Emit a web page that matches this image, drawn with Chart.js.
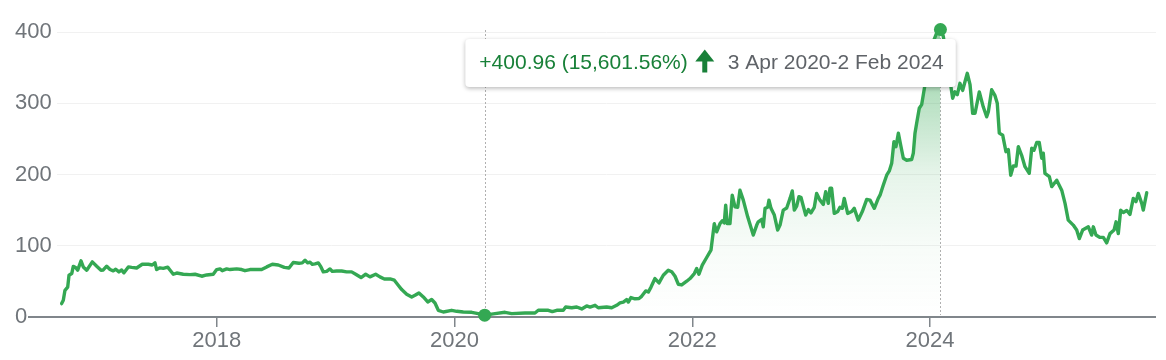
<!DOCTYPE html>
<html><head><meta charset="utf-8">
<script src="https://cdn.jsdelivr.net/npm/chart.js@4"></script>
<style>html,body{margin:0;padding:0;background:#fff}#wrap{width:1166px;height:360px;position:relative}canvas{display:block}</style>
</head><body><div id="wrap"><canvas id="c" width="1166" height="360"></canvas></div>
<script>
// decimal-year dates and prices
const dates = [
2016.696,2016.710,2016.724,2016.747,2016.758,2016.781,2016.794,2016.814,2016.831,2016.859,2016.878,2016.907,2016.954,2016.991,
2017.027,2017.046,2017.075,2017.103,2017.130,2017.151,2017.178,2017.201,2017.220,2017.257,2017.285,2017.327,2017.374,2017.425,
2017.458,2017.481,2017.495,2017.523,2017.551,2017.588,2017.607,2017.635,2017.664,2017.719,2017.775,2017.818,2017.874,2017.916,2017.971,
2018.000,2018.028,2018.047,2018.084,2018.112,2018.168,2018.210,2018.238,2018.280,2018.336,2018.378,2018.421,2018.468,2018.518,
2018.569,2018.608,2018.644,2018.692,2018.720,2018.743,2018.765,2018.785,2018.804,2018.827,2018.855,2018.877,2018.897,2018.925,
2018.953,2018.972,2019.009,2019.051,2019.093,2019.135,2019.169,2019.214,2019.253,2019.289,2019.337,2019.373,2019.410,2019.458,
2019.494,2019.527,2019.556,2019.598,2019.640,2019.668,2019.701,2019.738,2019.775,2019.808,2019.836,2019.864,2019.906,2019.976,
2020.019,2020.074,2020.145,2020.200,2020.254,2020.341,2020.425,2020.481,2020.593,2020.677,2020.705,2020.789,2020.823,2020.860,
2020.915,2020.935,2020.986,2021.028,2021.070,2021.112,2021.140,2021.182,2021.209,2021.280,2021.322,2021.364,2021.392,2021.420,
2021.448,2021.462,2021.484,2021.518,2021.552,2021.574,2021.608,2021.630,2021.653,2021.686,2021.720,2021.756,2021.798,2021.827,
2021.855,2021.882,2021.911,2021.953,2021.981,2022.017,2022.037,2022.056,2022.084,2022.121,2022.157,2022.185,2022.205,2022.233,
2022.252,2022.269,2022.281,2022.294,2022.317,2022.336,2022.359,2022.382,2022.401,2022.429,2022.466,2022.513,2022.542,2022.555,
2022.584,2022.597,2022.612,2022.634,2022.645,2022.662,2022.690,2022.718,2022.738,2022.765,2022.794,2022.822,2022.841,2022.858,
2022.878,2022.897,2022.914,2022.934,2022.954,2022.976,2022.998,2023.026,2023.046,2023.074,2023.102,2023.122,2023.144,2023.158,
2023.172,2023.194,2023.223,2023.242,2023.262,2023.278,2023.307,2023.341,2023.362,2023.396,2023.430,2023.467,2023.495,2023.531,
2023.564,2023.579,2023.606,2023.635,2023.657,2023.677,2023.696,2023.713,2023.733,2023.753,2023.775,2023.803,2023.845,2023.859,
2023.873,2023.887,2023.909,2023.929,2023.943,2023.957,2023.971,2023.993,2024.013,2024.033,2024.055,2024.087,2024.111,2024.151,
2024.190,2024.209,2024.229,2024.251,2024.274,2024.294,2024.313,2024.336,2024.358,2024.378,2024.414,2024.447,2024.476,2024.490,
2024.518,2024.546,2024.565,2024.582,2024.611,2024.638,2024.658,2024.678,2024.700,2024.723,2024.742,2024.770,2024.798,2024.834,
2024.855,2024.874,2024.897,2024.918,2024.939,2024.952,2024.966,2025.003,2025.023,2025.065,2025.107,2025.135,2025.162,2025.204,
2025.233,2025.255,2025.283,2025.331,2025.359,2025.373,2025.395,2025.429,2025.457,2025.485,2025.513,2025.547,2025.564,2025.583,
2025.603,2025.625,2025.654,2025.681,2025.709,2025.732,2025.751,2025.780,2025.793,2025.822
];
const prices = [
18.8,23.5,37.5,42,58.6,61,71,69.5,65.7,78.8,70.3,65.7,77.4,71.3,
65.7,66,71.3,66.6,64.7,67,63.3,66,62,70.3,69.6,68.8,74,74,
73,76,66.6,69,68.3,70,66,60,61.7,60,59.5,60,57.2,59,60,
66.6,67.5,65,67.5,66.6,67.5,66.6,65,66.6,66.6,66.6,70.3,74,73,
69.6,68.8,76.5,75.5,76,79.7,76,77,73.8,74.5,76,70.3,63.3,64,
67.5,64,64.5,64.5,63.3,63.3,60,55.4,60,56.3,60,56.3,53.4,53.4,
51.6,44.6,38.5,32,28.1,30.5,33.8,28.1,21.1,24.5,19.7,9.4,7,9.4,
8,7,6.6,4.7,2.57,4.7,6.6,4.7,5.6,5.6,9.4,9.4,7.5,9.4,
9.4,14,13,14,11.3,15.5,14,16.4,13,14,13,16.4,19.7,21,
24.5,21,27.3,25.6,26,29,36.6,35,42,54,47.8,58.6,65.7,63.5,
57.2,46,45,50.2,54,61,68,60,72.7,83.5,93.8,131,119.5,131,
135,132,157,131,131,171,154.7,154,178,164,140.6,115,129,133.6,
137,126.6,152.5,154,164,152.5,143,122,129,150,153,166.5,177,150,
155.5,168.8,168,155.5,143,150.7,146,154,173.5,164,158,175.8,159.6,180.6,
180.6,145.4,148,154,152.5,166.5,145.4,148,152.5,136,148,165,164,152.5,
166.5,171,185,199,205,215.7,246,239,258,241,222.8,220,221,230,
258,272,293,298,312,326,342,361,377.5,389,398.6,403.53,394,350,
307,316,312,328,318,330.5,342,326,286,286,316,295,281,288,
319,310.6,300,258,255,232,235,199,212,212,239,227,211,201.7,
237,234,245,245,222.8,230,201.7,197,183,192,178,159.5,136,129,
122,110,122,126.6,115,126.6,115,111.7,111.7,104,117,122,133.6,117,
150,146.6,149.5,144,166.5,162,173.5,159.5,150,174.4
];
const xTickYears = [2018, 2020, 2022, 2024];
const yTickValues = [0, 100, 200, 300, 400];
const rangeStartDate = 2020.254;   // 3 Apr 2020
const rangeEndDate = 2024.087;     // 2 Feb 2024
const rangeStartLabel = '3 Apr 2020';
const rangeEndLabel = '2 Feb 2024';

const GREEN = '#34a853';
const FONT = 'Arial, "Liberation Sans", sans-serif';

const points = dates.map((d, i) => ({x: d, y: prices[i]}));
const iStart = dates.indexOf(rangeStartDate);
const iEnd = dates.indexOf(rangeEndDate);
const rangePoints = points.filter(p => p.x >= rangeStartDate && p.x <= rangeEndDate);

const rangeLines = {
  id: 'rangeLines',
  beforeDatasetsDraw(chart) {
    const {ctx, chartArea} = chart, xs = chart.scales.x;
    ctx.save();
    ctx.strokeStyle = '#b0b0b0';
    ctx.lineWidth = 1;
    ctx.setLineDash([2, 2]);
    [rangeStartDate, rangeEndDate].forEach(d => {
      const x = Math.round(xs.getPixelForValue(d)) + 0.5;
      ctx.beginPath();
      ctx.moveTo(x, chartArea.top - 2);
      ctx.lineTo(x, chartArea.bottom - 2);
      ctx.stroke();
    });
    ctx.restore();
  }
};

const rangeBox = {
  id: 'rangeBox',
  afterDatasetsDraw(chart) {
    const {ctx, chartArea} = chart, xs = chart.scales.x;
    const x0 = xs.getPixelForValue(rangeStartDate), x1 = xs.getPixelForValue(rangeEndDate);
    const v0 = prices[iStart], v1 = prices[iEnd];
    const diff = v1 - v0, pct = diff / v0 * 100;
    const fmt = n => n.toLocaleString('en-US', {minimumFractionDigits: 2, maximumFractionDigits: 2});
    const t1 = (diff >= 0 ? '+' : '') + fmt(diff) + ' (' + fmt(pct) + '%)';
    const t2 = rangeStartLabel + '-' + rangeEndLabel;
    ctx.save();
    ctx.font = '21px ' + FONT;
    const w1 = ctx.measureText(t1).width, w2 = ctx.measureText(t2).width;
    const padL = 14, gap1 = 7, aw = 20, gap2 = 13, padR = 12, H = 48;
    const W = padL + w1 + gap1 + aw + gap2 + w2 + padR;
    const left = (x0 + x1) / 2 - 2 - W / 2;
    const top = chartArea.top + 7;
    ctx.shadowColor = 'rgba(0,0,0,0.28)';
    ctx.shadowBlur = 4;
    ctx.shadowOffsetY = 1.5;
    ctx.fillStyle = '#fff';
    ctx.beginPath();
    ctx.roundRect(left, top, W, H, 4);
    ctx.fill();
    ctx.shadowColor = 'transparent';
    const cy = top + H / 2 + 0.5;
    ctx.textBaseline = 'middle';
    ctx.textAlign = 'left';
    ctx.fillStyle = '#188038';
    ctx.fillText(t1, left + padL, cy);
    // up arrow icon
    const ax = left + padL + w1 + gap1, acx = ax + aw / 2;
    ctx.beginPath();
    ctx.moveTo(acx, cy - 14);
    ctx.lineTo(ax + aw - 0.5, cy - 2);
    ctx.lineTo(ax + 0.5, cy - 2);
    ctx.closePath();
    ctx.fill();
    ctx.fillRect(acx - 2.5, cy - 3, 5, 12);
    ctx.fillStyle = '#5f6368';
    ctx.fillText(t2, ax + aw + gap2, cy);
    ctx.restore();
  }
};

const isZero = c => c.tick && c.tick.value === 0;

new Chart(document.getElementById('c'), {
  type: 'line',
  data: {
    datasets: [
      {
        data: points,
        borderColor: GREEN,
        borderWidth: 3.4,
        borderJoinStyle: 'round',
        borderCapStyle: 'round',
        tension: 0,
        fill: false,
        clip: false,
        order: 0,
        pointRadius: c => (c.dataIndex === iStart || c.dataIndex === iEnd) ? 6.5 : 0,
        pointBackgroundColor: GREEN,
        pointBorderWidth: 0,
        pointHoverRadius: 0
      },
      {
        data: rangePoints,
        borderWidth: 0,
        pointRadius: 0,
        tension: 0,
        order: 1,
        fill: 'origin',
        backgroundColor: c => {
          const a = c.chart.chartArea;
          if (!a) return 'rgba(52,168,83,0.2)';
          const g = c.chart.ctx.createLinearGradient(0, a.top, 0, a.bottom);
          g.addColorStop(0, 'rgba(52,168,83,0.5)');
          g.addColorStop(0.2, 'rgba(52,168,83,0.38)');
          g.addColorStop(0.5, 'rgba(52,168,83,0.12)');
          g.addColorStop(0.75, 'rgba(52,168,83,0.04)');
          g.addColorStop(1, 'rgba(52,168,83,0.0)');
          return g;
        }
      }
    ]
  },
  options: {
    responsive: false,
    devicePixelRatio: 1,
    animation: false,
    events: [],
    layout: {padding: {left: 15, right: 10, top: 32, bottom: 0}},
    plugins: {legend: {display: false}, tooltip: {enabled: false}},
    scales: {
      x: {
        type: 'linear',
        min: 2016.657,
        max: 2025.90,
        afterBuildTicks: s => { s.ticks = xTickYears.map(v => ({value: v})); },
        afterFit: s => { s.height = 43; },
        border: {display: false},
        grid: {drawOnChartArea: false, drawTicks: true, tickLength: 10, tickColor: '#80868b', lineWidth: 1.5},
        ticks: {color: '#70757a', font: {family: FONT, size: 22}, padding: 1, maxRotation: 0, autoSkip: false, callback: v => String(v)}
      },
      y: {
        position: 'left',
        min: 0,
        max: 400,
        afterBuildTicks: s => { s.ticks = yTickValues.map(v => ({value: v})); },
        afterFit: s => { s.width = 42; },
        border: {display: false},
        grid: {
          color: c => isZero(c) ? '#80868b' : '#f1f1f1',
          lineWidth: c => isZero(c) ? 2 : 1,
          drawTicks: true,
          tickLength: 29,
          tickColor: c => isZero(c) ? '#80868b' : 'rgba(0,0,0,0)'
        },
        ticks: {color: '#70757a', font: {family: FONT, size: 22}, padding: 0, crossAlign: 'far', callback: v => String(v)}
      }
    }
  },
  plugins: [rangeLines, rangeBox]
});
</script>
</body></html>
